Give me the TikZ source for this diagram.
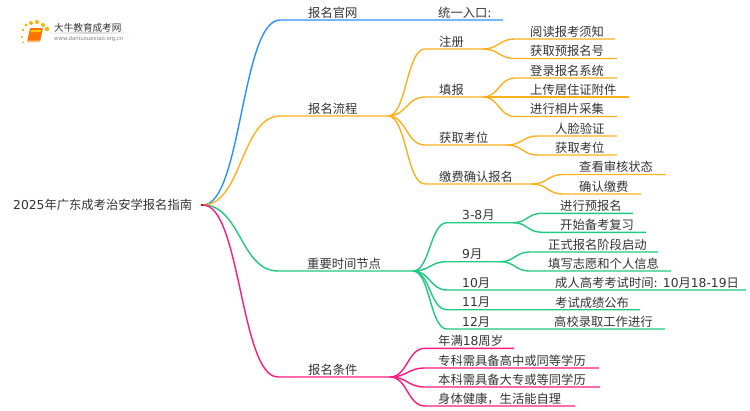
\documentclass[tikz,border=0pt]{standalone}
\usepackage{fontspec}
\setmainfont{DejaVu Sans}
\newfontfamily\cjk{Noto Sans CJK SC}
\newfontfamily\latfont{DejaVu Sans}
\usetikzlibrary{calc}
\newcommand{\lat}[1]{{\latfont #1}}
\definecolor{bluebr}{HTML}{2B90FF}
\definecolor{orangebr}{HTML}{FFB01F}
\definecolor{greenbr}{HTML}{1FC97F}
\definecolor{pinkbr}{HTML}{FF1A7F}
\definecolor{inkgray}{HTML}{333333}
\tikzset{
  label text/.style={font=\cjk\fontsize{12.3}{14}\selectfont,text=inkgray,anchor=west,inner sep=0pt,text height=10pt,text depth=2pt},
  branch/.style={line width=1.4pt,to path={let \p1=(\tikztostart), \p2=(\tikztotarget), \n1={.5*\x1+.5*\x2} in .. controls (\n1,\y1) and (\n1,\y2) .. (\tikztotarget)}}
}
\begin{document}
\begin{tikzpicture}[x=1pt,y=-1pt]
\useasboundingbox (0,0) rectangle (750,410);

% logo
\foreach \dx/\dy/\dr in {23/30/1.3, 26/25/1.6, 31/23/2, 37/22/2, 43/25/2, 47/29/2.2, 22/37/1.2, 23/42/1}
  \fill[orange!60!yellow] (\dx,\dy) circle (\dr);
\fill[orange!90!red,rounded corners=1pt] (30,28) -- (43,28) -- (40,42) -- (27,42) -- cycle;
\fill[orange!40!yellow] (31,30) -- (41,30) -- (40.5,32) -- (30.5,32) -- cycle;
\fill[orange!30!white] (27.5,40.5) -- (40,40.5) -- (39.8,41.5) -- (27.3,41.5) -- cycle;
\shade[left color=white,right color=white,middle color=gray!35] (45,32.7) rectangle (133,33.5);
\node[label text,font=\cjk\fontsize{9.6}{11}\selectfont,text=inkgray] (logoname) at (54,27) {大牛教育成考网};
\node[label text,font=\latfont\fontsize{5.4}{6}\selectfont,text=gray,text height=4pt,text depth=1pt] (logourl) at (54,38.5) {www.daniuxuexiao.org.cn};

\node[label text] (root) at (13,205.5) {\lat{2025}年广东成考治安学报名指南};
\coordinate (roote) at (203,205);
\draw[line width=1.4pt,red!80!black] (root.east) ++(9,-0.5) -- (roote);

% name/parent/colour/line start/line end/line y/text x/text
\foreach \name/\from/\col/\xs/\xe/\yy/\xt/\txt in {
  a/root/bluebr/280/503/20/308/{报名官网},
  b/root/orangebr/280/388/116/308/{报名流程},
  b1/b/orangebr/425/483/49/439/{注册},
  b2/b/orangebr/425/483/97/439/{填报},
  b3/b/orangebr/425/507/145/439/{获取考位},
  b4/b/orangebr/425/532/184/439/{缴费确认报名},
  b11/b1/orangebr/515/615/39/530/{阅读报考须知},
  b12/b1/orangebr/515/617/58.5/530/{获取预报名号},
  b21/b2/orangebr/515/617/78/530/{登录报名系统},
  b22/b2/orangebr/515/629/97/530/{上传居住证附件},
  b23/b2/orangebr/515/617/116.5/530/{进行相片采集},
  b31/b3/orangebr/538/617/136/555/{人脸验证},
  b32/b3/orangebr/538/617/155/555/{获取考位},
  b41/b4/orangebr/563/666/174.5/579/{查看审核状态},
  b42/b4/orangebr/563/641/194/579/{确认缴费},
  c/root/greenbr/278/413/271/307/{重要时间节点},
  c1/c/greenbr/447/513/222.7/462/{\lat{3-8}月},
  c2/c/greenbr/447/500/261.7/462/{\lat{9}月},
  c3/c/greenbr/447/746/290/462/{\lat{10}月},
  c4/c/greenbr/447/640/309.7/462/{\lat{11}月},
  c5/c/greenbr/447/665/329/462/{\lat{12}月},
  c11/c1/greenbr/542/633/213.3/560/{进行预报名},
  c12/c1/greenbr/542/646/232.3/560/{开始备考复习},
  c21/c2/greenbr/530/658/252/548/{正式报名阶段启动},
  c22/c2/greenbr/530/671/271/548/{填写志愿和个人信息},
  d/root/pinkbr/278/390/377/308/{报名条件},
  d1/d/pinkbr/425/514/348.3/438/{年满\lat{18}周岁},
  d2/d/pinkbr/425/599/368/438/{专科需具备高中或同等学历},
  d3/d/pinkbr/425/600/387/438/{本科需具备大专或等同学历},
  d4/d/pinkbr/425/575/406/438/{身体健康，生活能自理}
}{
\coordinate (\name s) at (\xs,\yy);
\coordinate (\name e) at (\xe,\yy);
\node[label text] (\name) at (\xt,\yy-7) {\txt};
\draw[branch,\col] (\from e) to (\name s) -- (\name e);
}

% second label on the same line
\node[label text] (a1) at (438,13) {统一入口\lat{:}};
\node[label text] (c31) at (555,283) {成人高考考试时间\lat{: 10}月\lat{18-19}日};
\node[label text] (c41) at (555,303) {考试成绩公布};
\node[label text] (c51) at (554,322) {高校录取工作进行};

\end{tikzpicture}
\end{document}
